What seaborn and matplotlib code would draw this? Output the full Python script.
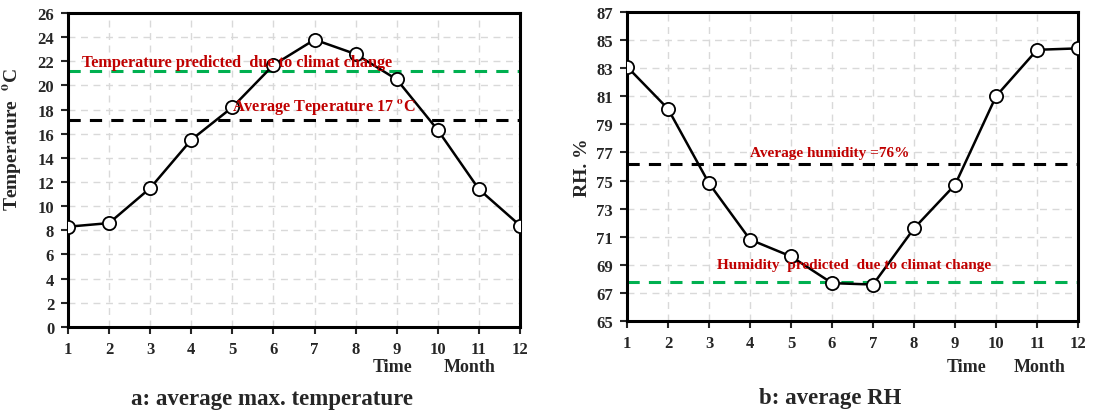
import numpy as np
import pandas as pd
import matplotlib.pyplot as plt
import seaborn as sns

# ==============================
# Data
# ==============================

months = [1, 2, 3, 4, 5, 6, 7, 8, 9, 10, 11, 12]
max_temp = [8.3, 8.6, 11.5, 15.5, 18.2, 21.7, 23.8, 22.6, 20.5, 16.3, 11.4, 8.4]
rel_hum = [83.1, 80.1, 74.8, 70.8, 69.6, 67.7, 67.6, 71.6, 74.7, 81.0, 84.3, 84.4]

temp_avg = 17.1
temp_pred = 21.2
hum_avg = 76.2
hum_pred = 67.8

temp_ticks = list(range(0, 27, 2))
hum_ticks = list(range(65, 88, 2))

df = pd.DataFrame({"Month": months, "Temp": max_temp, "RH": rel_hum})

# ==============================
# Style
# ==============================

sns.set_style("white")
plt.rcParams["font.family"] = ["Liberation Serif", "DejaVu Serif"]
plt.rcParams["font.weight"] = "bold"
plt.rcParams["mathtext.fontset"] = "stix"

RED = "#c00000"
GREEN = "#00b050"

fig = plt.figure(figsize=(10.99, 4.14), dpi=100)
ax1 = fig.add_axes([0.0619, 0.208, 0.4113, 0.758])
ax2 = fig.add_axes([0.5705, 0.222, 0.4105, 0.747])


def style_axis(ax, yticks):
    ax.set_xlim(1, 12)
    ax.set_ylim(yticks[0], yticks[-1])
    ax.set_xticks(months)
    ax.set_yticks(yticks)
    ax.grid(True, color="#d9d9d9", linestyle=(0, (5, 4)), linewidth=1.0)
    ax.set_axisbelow(True)
    for s in ax.spines.values():
        s.set_visible(True)
        s.set_color("black")
        s.set_linewidth(2.2)
    ax.tick_params(axis="both", direction="out", length=5, width=1.5,
                   labelsize=12, pad=5, left=True, bottom=True)
    for lab in ax.get_xticklabels() + ax.get_yticklabels():
        lab.set_fontweight("bold")
    ax.set_xlabel("")


def px(x, y):
    # pixel position in the 1099x414 canvas -> figure fraction
    return x / 1099, 1 - y / 414


# ==============================
# a: temperature
# ==============================

ax1.axhline(temp_pred, color=GREEN, linestyle=(0, (4, 3)), linewidth=2.2, zorder=2)
ax1.axhline(temp_avg, color="black", linestyle=(0, (4, 3)), linewidth=2.2, zorder=2)
sns.lineplot(data=df, x="Month", y="Temp", ax=ax1, color="black", linewidth=1.8,
             marker="o", markersize=9.5, markerfacecolor="white",
             markeredgecolor="black", markeredgewidth=1.3, zorder=3)
style_axis(ax1, temp_ticks)
ax1.set_ylabel(r"Temperature  $^{\mathbf{o}}$C", fontsize=14, fontweight="bold")
ax1.yaxis.set_label_coords(-0.097, 0.60)
ax1.text(1.33, 21.95, "Temperature predicted  due to climat change",
         color=RED, fontsize=11.7, fontweight="bold", va="center", zorder=4)
ax1.text(4.98, 18.3, r"Average Teperature 17 $^{\mathbf{o}}$C",
         color=RED, fontsize=11.7, fontweight="bold", va="center", zorder=4)

fig.text(*px(373, 368), "Time", fontsize=13, fontweight="bold", va="center")
fig.text(*px(444, 368), "Month", fontsize=13, fontweight="bold", va="center")
fig.text(*px(272, 400), "a: average max. temperature", fontsize=16.5, fontweight="bold",
         ha="center", va="center")

# ==============================
# b: relative humidity
# ==============================

ax2.axhline(hum_avg, color="black", linestyle=(0, (4, 3)), linewidth=2.2, zorder=2)
ax2.axhline(hum_pred, color=GREEN, linestyle=(0, (4, 3)), linewidth=2.2, zorder=2)
sns.lineplot(data=df, x="Month", y="RH", ax=ax2, color="black", linewidth=1.8,
             marker="o", markersize=9.5, markerfacecolor="white",
             markeredgecolor="black", markeredgewidth=1.3, zorder=3)
style_axis(ax2, hum_ticks)
ax2.set_ylabel("RH. %", fontsize=14, fontweight="bold", labelpad=4)
ax2.text(4.0, 77.0, "Average humidity =76%",
         color=RED, fontsize=11, fontweight="bold", va="center", zorder=4)
ax2.text(3.2, 69.0, "Humidity  predicted  due to climat change",
         color=RED, fontsize=11, fontweight="bold", va="center", zorder=4)

fig.text(*px(947, 367), "Time", fontsize=13, fontweight="bold", va="center")
fig.text(*px(1014, 367), "Month", fontsize=13, fontweight="bold", va="center")
fig.text(*px(830, 399), "b: average RH", fontsize=16.5, fontweight="bold",
         ha="center", va="center")

fig.savefig("out.png", dpi=100)
